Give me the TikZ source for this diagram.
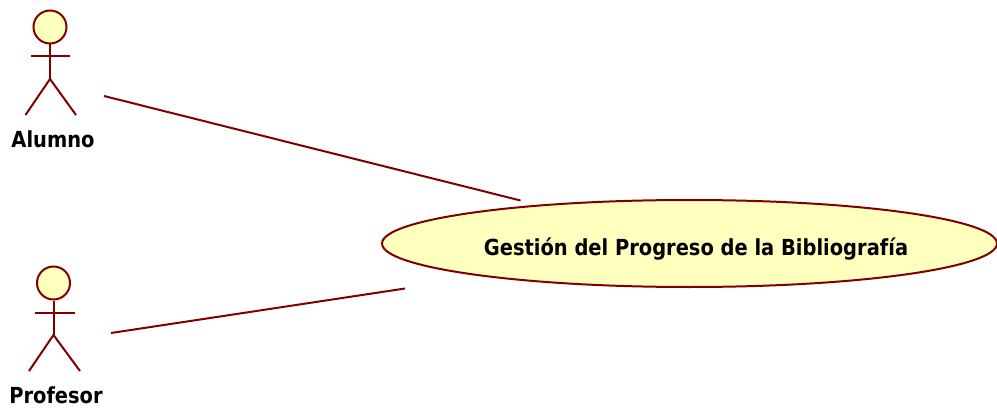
\documentclass[tikz,border=0pt]{standalone}
\usepackage{fontspec}
\setmainfont[FakeStretch=0.88]{DejaVu Sans}
\usetikzlibrary{shapes.geometric}
\definecolor{umlline}{RGB}{128,0,0}
\definecolor{umlfill}{RGB}{255,255,190}
\tikzset{
  umlstroke/.style={draw=umlline,line width=2pt},
  actorhead/.style={umlstroke,fill=umlfill,circle,minimum size=33pt,inner sep=0pt},
  actorlabel/.style={font=\fontsize{22.1}{24}\selectfont\bfseries,text=black,inner sep=0pt,anchor=base},
  usecase/.style={umlstroke,fill=umlfill,ellipse,minimum width=615pt,minimum height=87pt,inner sep=0pt},
  usecaselabel/.style={font=\fontsize{22.1}{24}\selectfont\bfseries,text=black,inner sep=0pt,anchor=base},
  assoc/.style={umlstroke}
}
\begin{document}
\begin{tikzpicture}[x=1pt,y=1pt]
\useasboundingbox (0,0) rectangle (997,408);
% use case
\node[usecase] (uc) at (689.5,164.5) {};
\node[usecaselabel] (uclabel) at (696,153) {Gestión del Progreso de la Bibliografía};
% actor Alumno
\node[actorhead] (h1) at (50,381) {};
\coordinate (hip1) at (50,329);
\coordinate (al1) at (31,351.5);
\coordinate (ar1) at (70,351.5);
\coordinate (ll1) at (25.5,293);
\coordinate (lr1) at (76,293);
\draw[umlstroke] (h1.south) -- (hip1);
\draw[umlstroke] (al1) -- (ar1);
\draw[umlstroke] (ll1) -- (hip1) -- (lr1);
\node[actorlabel] (t1) at (53,261) {Alumno};
% actor Profesor
\node[actorhead] (h2) at (53.5,125) {};
\coordinate (hip2) at (53.5,73);
\coordinate (al2) at (35,95.5);
\coordinate (ar2) at (74.5,95.5);
\coordinate (ll2) at (29,37);
\coordinate (lr2) at (80,37);
\draw[umlstroke] (h2.south) -- (hip2);
\draw[umlstroke] (al2) -- (ar2);
\draw[umlstroke] (ll2) -- (hip2) -- (lr2);
\node[actorlabel] (t2) at (56,5) {Profesor};
% associations
\coordinate (a1s) at (104,312);
\coordinate (a1e) at (520.5,207.5);
\coordinate (a2s) at (111,75);
\coordinate (a2e) at (405,119.5);
\draw[assoc] (a1s) -- (a1e);
\draw[assoc] (a2s) -- (a2e);
\end{tikzpicture}
\end{document}
